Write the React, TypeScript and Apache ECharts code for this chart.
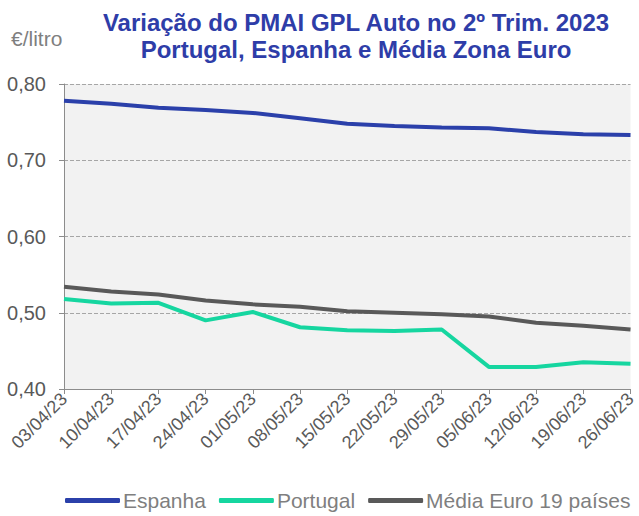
import React, { useEffect, useRef } from "react";
import * as echarts from "echarts";

const categories = [
  "03/04/23", "10/04/23", "17/04/23", "24/04/23", "01/05/23", "08/05/23", "15/05/23",
  "22/05/23", "29/05/23", "05/06/23", "12/06/23", "19/06/23", "26/06/23",
];
const espanha = [0.778, 0.774, 0.769, 0.766, 0.762, 0.755, 0.748, 0.745, 0.743, 0.742, 0.737, 0.734, 0.733];
const portugal = [0.518, 0.512, 0.513, 0.490, 0.501, 0.481, 0.477, 0.476, 0.478, 0.429, 0.429, 0.435, 0.433];
const mediaEuro = [0.534, 0.528, 0.524, 0.516, 0.511, 0.508, 0.502, 0.500, 0.498, 0.495, 0.487, 0.483, 0.478];
const seriesNames = ["Espanha", "Portugal", "Média Euro 19 países"];
const colors = ["#2B40AA", "#16D6A0", "#595959"];

const FONT = "'Liberation Sans', Arial, sans-serif";

export default function App() {
  const ref = useRef<HTMLDivElement>(null);
  useEffect(() => {
    if (!ref.current) return;
    const chart = echarts.init(ref.current, null, { renderer: "svg" });
    const mk = (name: string, data: number[], color: string) => ({
      name,
      type: "line",
      data,
      symbol: "none",
      showSymbol: false,
      lineStyle: { color, width: 4 },
      itemStyle: { color },
    });
    chart.setOption({
      animation: false,
      textStyle: { fontFamily: FONT },
      title: {
        text: "Variação do PMAI GPL Auto no 2º Trim. 2023\nPortugal, Espanha e Média Zona Euro",
        left: 351,
        top: 4,
        textAlign: "center",
        textStyle: { fontFamily: FONT, fontSize: 24, fontWeight: "bold", color: "#2E3DA8", lineHeight: 27 },
      },
      graphic: [
        {
          type: "text",
          left: 11,
          top: 28,
          style: { text: "€/litro", fontFamily: FONT, fontSize: 21, fill: "#7F7F7F" },
        },
      ],
      legend: {
        data: seriesNames.map((n) => ({ name: n, icon: "roundRect" })),
        left: 60,
        top: 485,
        itemWidth: 55,
        itemHeight: 5,
        itemGap: 13,
        textStyle: { fontFamily: FONT, fontSize: 21, color: "#7F7F7F", padding: [0, 0, 0, -2] },
      },
      grid: {
        left: 64,
        right: 4,
        top: 84,
        bottom: 127,
        show: true,
        backgroundColor: "#F2F2F2",
        borderWidth: 0,
      },
      xAxis: {
        type: "category",
        data: categories,
        boundaryGap: false,
        axisLine: { lineStyle: { color: "#8C8C8C", width: 1 } },
        axisTick: { show: true, alignWithLabel: true, length: 5, lineStyle: { color: "#8C8C8C" } },
        axisLabel: { rotate: 45, fontFamily: FONT, fontSize: 18, color: "#595959", margin: 7, interval: 0 },
      },
      yAxis: {
        type: "value",
        min: 0.4,
        max: 0.8,
        interval: 0.1,
        axisLine: { show: true, lineStyle: { color: "#8C8C8C", width: 1 } },
        axisTick: { show: true, length: 5, lineStyle: { color: "#8C8C8C" } },
        axisLabel: {
          fontFamily: FONT,
          fontSize: 20,
          color: "#595959",
          margin: 18,
          formatter: (v: number) => v.toFixed(2).replace(".", ","),
        },
        splitLine: { lineStyle: { color: "#A6A6A6", type: [4, 2], width: 1 } },
      },
      series: [
        mk(seriesNames[0], espanha, colors[0]),
        mk(seriesNames[1], portugal, colors[1]),
        mk(seriesNames[2], mediaEuro, colors[2]),
      ],
    });
    return () => chart.dispose();
  }, []);
  return <div ref={ref} style={{ position: "absolute", left: 0, top: 0, width: 639, height: 516 }} />;
}
